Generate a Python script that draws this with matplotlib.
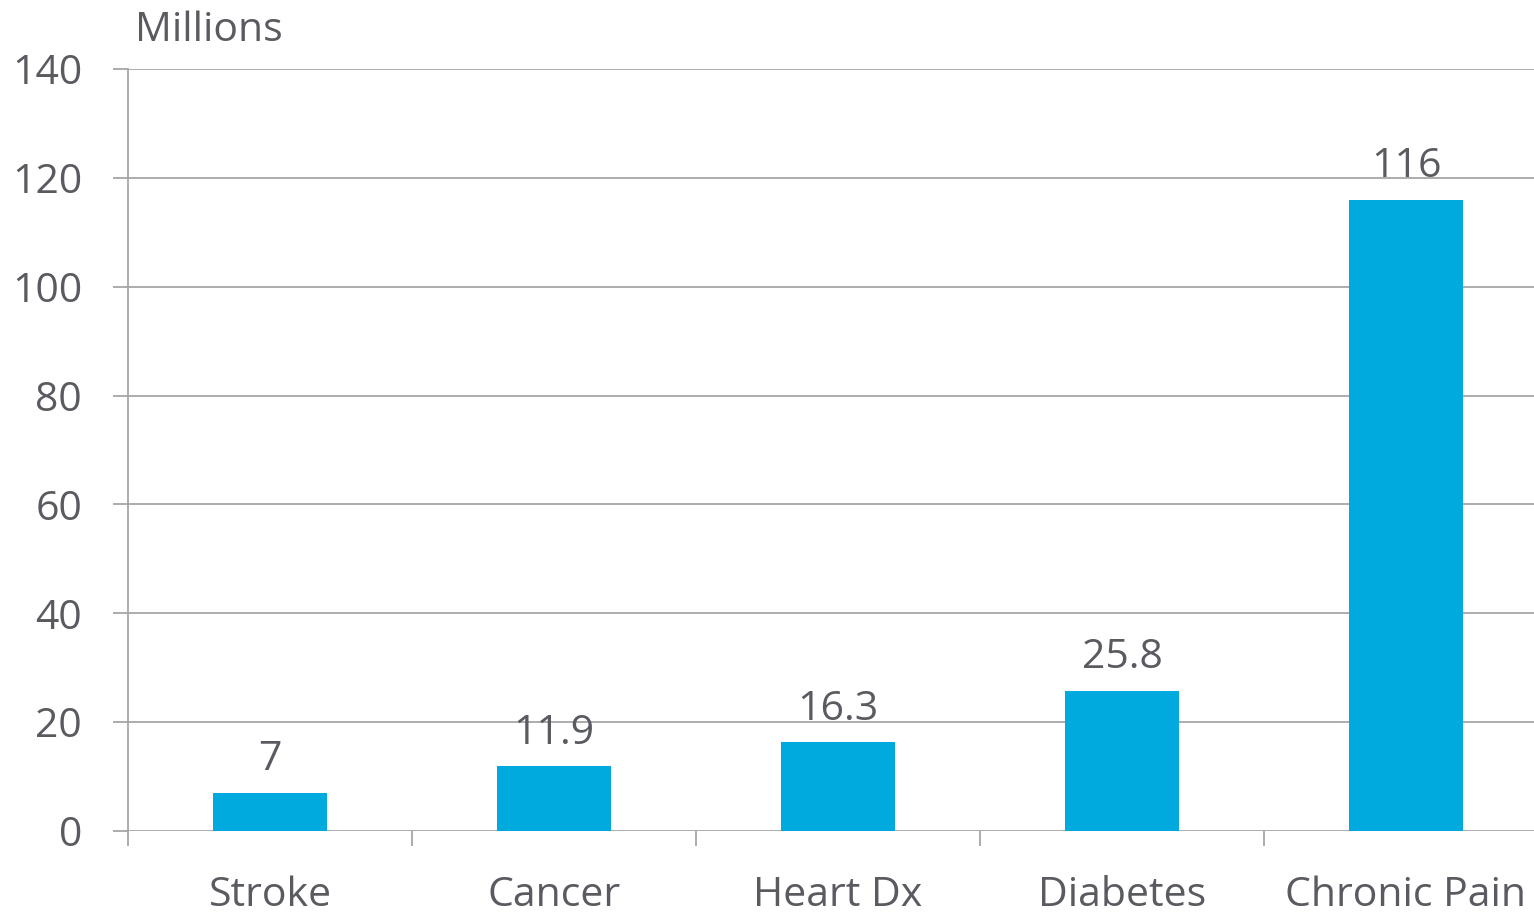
import numpy as np
import matplotlib.pyplot as plt
from matplotlib.ticker import FixedLocator

# data
categorias = ['Stroke', 'Cancer', 'Heart Dx', 'Diabetes', 'Chronic Pain']
valores = [7, 11.9, 16.3, 25.8, 116]
etiquetas = ['7', '11.9', '16.3', '25.8', '116']
y_ticks = [0, 20, 40, 60, 80, 100, 120, 140]

azul = '#00AADF'
gris_txt = '#595B60'
gris_lin = '#A6A6A6'
fs = 29.5

plt.rcParams['font.family'] = ['Open Sans', 'DejaVu Sans']

fig = plt.figure(figsize=(15.34, 9.13), dpi=100)
W, H = 1534, 913
ax = fig.add_axes([128/W, 1 - 831/H, 1420/W, (831 - 69)/H])

x = np.arange(len(categorias))
ax.bar(x, valores, width=0.4, color=azul, zorder=3)

for xi, v, lab in zip(x, valores, etiquetas):
    ax.annotate(lab, (xi, v), xytext=(0, 9), textcoords='offset points',
                ha='center', va='bottom', fontsize=fs, color=gris_txt)

ax.set_xlim(-0.5, len(categorias) - 0.5)
ax.set_ylim(0, 140)
ax.set_yticks(y_ticks)
ax.set_yticklabels([str(t) for t in y_ticks])
ax.set_xticks(x)
ax.set_xticklabels(categorias)
ax.xaxis.set_minor_locator(FixedLocator(np.arange(-0.5, len(categorias), 1)))

ax.grid(axis='y', color=gris_lin, linewidth=1.3, zorder=0)
for s in ['top', 'right', 'bottom']:
    ax.spines[s].set_visible(False)
ax.spines['left'].set_color(gris_lin)
ax.spines['left'].set_linewidth(1.3)

ax.tick_params(axis='y', length=11, width=1.3, color=gris_lin, pad=22,
               labelsize=fs, labelcolor=gris_txt)
ax.tick_params(axis='x', which='major', length=0, pad=32,
               labelsize=fs, labelcolor=gris_txt)
ax.tick_params(axis='x', which='minor', length=11, width=1.3, color=gris_lin)

fig.text(135/W, 1 - 31/H, 'Millions', ha='left', va='center',
         fontsize=fs, color=gris_txt)

plt.savefig('out.png', dpi=100)
